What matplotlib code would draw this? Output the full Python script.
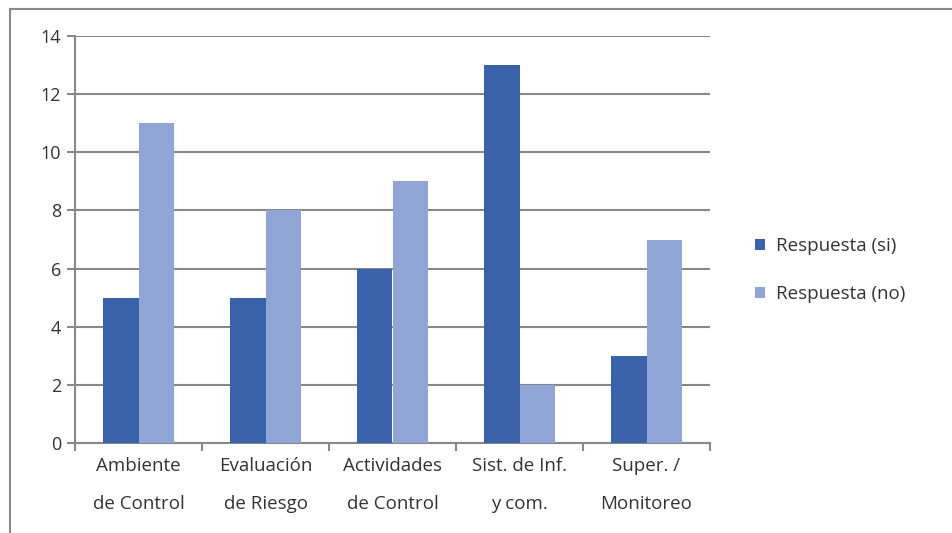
import matplotlib
matplotlib.use("Agg")
import matplotlib.pyplot as plt
from matplotlib.lines import Line2D
import numpy as np

categories = ["Ambiente\nde Control", "Evaluación\nde Riesgo", "Actividades\nde Control", "Sist. de Inf.\ny com.", "Super. /\nMonitoreo"]
si_values = [5, 5, 6, 13, 3]
no_values = [11, 8, 9, 2, 7]
series_names = ["Respuesta (si)", "Respuesta (no)"]
y_ticks = [0, 2, 4, 6, 8, 10, 12, 14]

plt.rcParams['font.family'] = ['Open Sans', 'DejaVu Sans']

fig = plt.figure(figsize=(9.52, 5.33), dpi=100)
ax = fig.add_axes([75/952, 1-443/533, (710-75)/952, (443-36)/533])

x = np.arange(len(categories))
w = 0.28
c_si = "#3A62AB"
c_no = "#8EA5D6"
ax.bar(x - w/2, si_values, w, color=c_si, label=series_names[0], zorder=3)
ax.bar(x + w/2, no_values, w, color=c_no, label=series_names[1], zorder=3)

ax.set_xlim(-0.5, len(categories) - 0.5)
ax.set_ylim(0, 14)
ax.set_yticks(y_ticks)
ax.set_yticklabels([str(v) for v in y_ticks], fontsize=13, color="#333333")
ax.set_xticks(np.arange(len(categories) + 1) - 0.5)
ax.set_xticklabels([])
ax.set_xticks(x, minor=True)
ax.set_xticklabels(categories, minor=True, fontsize=13.5, color="#333333", linespacing=2.45)
ax.tick_params(axis='x', which='minor', length=0, pad=10)
ax.tick_params(axis='x', which='major', length=6, color="#888888", width=1.5)
ax.tick_params(axis='y', length=6, color="#888888", width=1.5, pad=4)

ax.grid(axis='y', color="#888888", linewidth=1.5, zorder=0)
for s in ['top', 'right']:
    ax.spines[s].set_visible(False)
for s in ['left', 'bottom']:
    ax.spines[s].set_color("#888888")
    ax.spines[s].set_linewidth(1.5)

leg = fig.legend(loc='center left', bbox_to_anchor=(738/952, 1-270/533), frameon=False,
                 fontsize=13.5, handlelength=0.55, handleheight=0.55, handletextpad=0.6,
                 labelspacing=1.6, labelcolor="#333333")

# figure border: left and top edges
fig.add_artist(Line2D([10/952, 10/952], [0, 1-9/533], transform=fig.transFigure,
                      color="#888888", linewidth=1.5))
fig.add_artist(Line2D([10/952, 1], [1-9/533, 1-9/533], transform=fig.transFigure,
                      color="#888888", linewidth=1.5))

fig.savefig("out.png", dpi=100)
